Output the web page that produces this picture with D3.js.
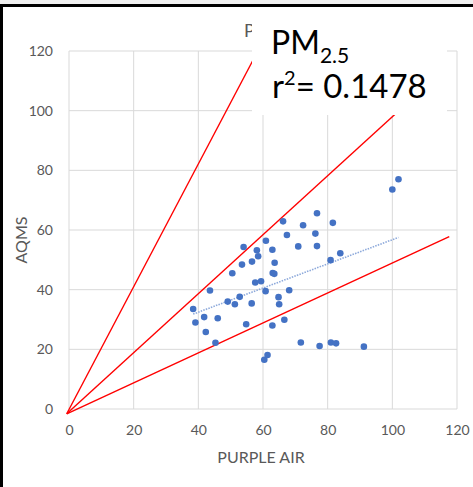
<!DOCTYPE html>
<html>
<head>
<meta charset="utf-8">
<script src="https://cdn.jsdelivr.net/npm/d3@7"></script>
<style>
  body { margin: 0; background: #fff; }
  svg { display: block; font-family: Lato, "Open Sans", sans-serif; }
</style>
</head>
<body>
<div id="chart"></div>
<script>
// PURPLE AIR (x) vs AQMS (y), PM2.5
const purpleAir = [38.4, 39.1, 41.8, 42.3, 43.6, 45.3, 46.0, 49.1, 50.5, 51.3,
  52.8, 53.5, 54.0, 54.8, 56.5, 56.6, 57.6, 58.1, 58.5, 59.4,
  60.4, 60.8, 60.9, 61.4, 62.9, 62.9, 63.0, 63.5, 63.6, 64.8,
  65.0, 66.2, 66.6, 67.4, 68.1, 70.9, 71.7, 72.4, 76.2, 76.7,
  76.7, 77.5, 80.9, 81.0, 81.6, 82.6, 83.9, 91.2, 100.0, 101.9];
const aqms = [33.5, 29.0, 30.8, 25.8, 39.7, 22.2, 30.4, 36.0, 45.5, 35.1,
  37.6, 48.4, 54.3, 28.4, 35.4, 49.4, 42.4, 53.2, 51.2, 42.8,
  16.5, 39.5, 56.4, 18.1, 53.4, 28.0, 45.6, 45.3, 49.0, 37.5,
  35.1, 62.9, 29.9, 58.3, 39.8, 54.5, 22.3, 61.6, 58.8, 65.6,
  54.6, 21.1, 49.9, 22.3, 62.4, 22.0, 52.2, 20.9, 73.6, 77.0];

const xTicks = [0, 20, 40, 60, 80, 100, 120];
const yTicks = [0, 20, 40, 60, 80, 100, 120];

// hand drawn reference lines (start, end) in data units
const refLines = [
  [[-0.7, -1.6], [58.4, 120]],
  [[-0.7, -1.6], [115, 112.8]],
  [[-0.7, -1.6], [117.6, 57.8]]
];

const width = 473, height = 487;
const margin = { top: 51, right: 16, bottom: 78, left: 69 };

const svg = d3.select("#chart").append("svg")
  .attr("width", width)
  .attr("height", height);

// frame
svg.append("rect").attr("x", 0).attr("y", 0).attr("width", width).attr("height", 5).attr("fill", "#f0f0f0");
svg.append("rect").attr("x", 0).attr("y", 4).attr("width", width).attr("height", 3).attr("fill", "#000");
svg.append("rect").attr("x", 0).attr("y", 4).attr("width", 3).attr("height", height).attr("fill", "#000");

const x = d3.scaleLinear().domain([0, 120]).range([margin.left, width - margin.right]);
const y = d3.scaleLinear().domain([0, 120]).range([height - margin.bottom, margin.top]);

// grid
svg.append("g").selectAll("line").data(xTicks).join("line")
  .attr("x1", d => x(d)).attr("x2", d => x(d))
  .attr("y1", y(0)).attr("y2", y(120))
  .attr("stroke", "#d9d9d9").attr("stroke-width", 1);
svg.append("g").selectAll("line").data(yTicks).join("line")
  .attr("x1", x(0)).attr("x2", x(120))
  .attr("y1", d => y(d)).attr("y2", d => y(d))
  .attr("stroke", "#d9d9d9").attr("stroke-width", 1);

// axes labels
const xAxis = svg.append("g")
  .attr("transform", `translate(0,${y(0)})`)
  .call(d3.axisBottom(x).tickValues(xTicks).tickSize(0).tickPadding(16));
xAxis.select(".domain").remove();
xAxis.selectAll("text").attr("fill", "#595959").attr("font-size", 14).attr("font-family", "Lato, sans-serif");

const yAxis = svg.append("g")
  .attr("transform", `translate(${x(0)},0)`)
  .call(d3.axisLeft(y).tickValues(yTicks).tickSize(0).tickPadding(16));
yAxis.select(".domain").remove();
yAxis.selectAll("text").attr("fill", "#595959").attr("font-size", 14).attr("font-family", "Lato, sans-serif");

svg.append("text")
  .attr("x", (x(0) + x(120)) / 2 - 2)
  .attr("y", 463)
  .attr("text-anchor", "middle")
  .attr("fill", "#595959")
  .attr("font-size", 16)
  .text("PURPLE AIR");

svg.append("text")
  .attr("transform", `translate(27,240) rotate(-90)`)
  .attr("text-anchor", "middle")
  .attr("fill", "#595959")
  .attr("font-size", 16)
  .text("AQMS");

// chart title, only its first letter shows beside the text box
svg.append("text")
  .attr("x", 244).attr("y", 37)
  .attr("fill", "#595959")
  .attr("font-size", 18)
  .text("P");

// red reference lines
const line = d3.line().x(d => x(d[0])).y(d => y(d[1]));
svg.append("g").selectAll("path").data(refLines).join("path")
  .attr("d", line)
  .attr("fill", "none")
  .attr("stroke", "#ff0000")
  .attr("stroke-width", 1.4);

// linear trendline
const pts = purpleAir.map((v, i) => [v, aqms[i]]);
const mx = d3.mean(purpleAir), my = d3.mean(aqms);
const slope = d3.sum(pts, p => (p[0] - mx) * (p[1] - my)) / d3.sum(pts, p => (p[0] - mx) ** 2);
const icpt = my - slope * mx;
const xMin = d3.min(purpleAir), xMax = d3.max(purpleAir);
svg.append("path")
  .attr("d", line([[xMin, icpt + slope * xMin], [xMax, icpt + slope * xMax]]))
  .attr("fill", "none")
  .attr("stroke", "#8eaadb")
  .attr("stroke-width", 1.6)
  .attr("stroke-dasharray", "1.5 1.2");

// points
svg.append("g").selectAll("circle").data(pts).join("circle")
  .attr("cx", d => x(d[0]))
  .attr("cy", d => y(d[1]))
  .attr("r", 3.3)
  .attr("fill", "#4472c4");

// annotation box
svg.append("rect")
  .attr("x", 252).attr("y", 18)
  .attr("width", 195).attr("height", 97)
  .attr("fill", "#fff");

const box = svg.append("text")
  .attr("x", 271).attr("y", 54)
  .attr("fill", "#000")
  .attr("font-size", 32);
box.append("tspan").text("PM");
box.append("tspan").attr("font-size", 21).attr("dy", 9).text("2.5");

const r2 = svg.append("text")
  .attr("x", 272).attr("y", 98)
  .attr("fill", "#000")
  .attr("font-size", 33);
r2.append("tspan").text("r");
r2.append("tspan").attr("font-size", 20).attr("dy", -13).text("2");
r2.append("tspan").attr("dy", 13).text("= 0.1478");
</script>
</body>
</html>
